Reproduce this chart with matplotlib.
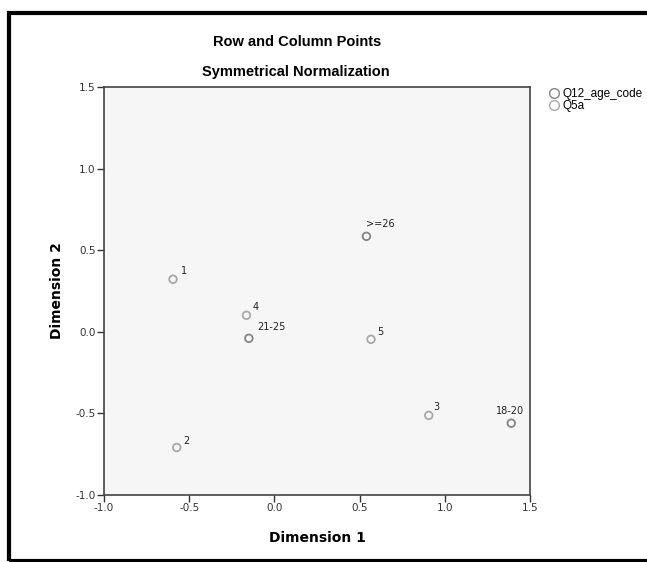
import matplotlib.pyplot as plt
from matplotlib.patches import Rectangle
from matplotlib.lines import Line2D

plt.rcParams['font.family'] = ['Liberation Sans', 'DejaVu Sans']

# row points (age groups) and column points (Q5a)
age_labels = ['18-20', '21-25', '>=26']
age_x = [1.39, -0.15, 0.54]
age_y = [-0.56, -0.04, 0.585]

q5_labels = ['1', '2', '3', '4', '5']
q5_x = [-0.595, -0.573, 0.906, -0.164, 0.567]
q5_y = [0.322, -0.709, -0.512, 0.101, -0.046]

# label offsets in pixels, as placed in the original
label_offsets = {'18-20': (-15, 7), '21-25': (8, 6), '>=26': (0, 7),
                 '1': (8, 3), '2': (6, 2), '3': (5, 3), '4': (6, 3), '5': (6, 2)}

fig = plt.figure(figsize=(6.47, 5.62), dpi=100)
ax = fig.add_axes([104/647, 1-495/562, 426/647, 408/562])
ax.set_facecolor('#f6f6f6')

ax.scatter(age_x, age_y, s=30, facecolors='none', edgecolors='#858585', linewidths=1.3, zorder=3)
ax.scatter(q5_x, q5_y, s=30, facecolors='none', edgecolors='#a8a8a8', linewidths=1.3, zorder=3)

for lab, x, y in zip(age_labels + q5_labels, age_x + q5_x, age_y + q5_y):
    ax.annotate(lab, (x, y), xytext=label_offsets[lab], textcoords='offset pixels',
                fontsize=7, family='DejaVu Sans', color='#222222', va='bottom', ha='left')

ticks = [-1.0, -0.5, 0.0, 0.5, 1.0, 1.5]
tick_labels = ['-1.0', '-0.5', '0.0', '0.5', '1.0', '1.5']
ax.set_xlim(-1.0, 1.5)
ax.set_ylim(-1.0, 1.5)
ax.set_xticks(ticks)
ax.set_yticks(ticks)
ax.set_xticklabels(tick_labels, family='DejaVu Sans')
ax.set_yticklabels(tick_labels, family='DejaVu Sans')
ax.tick_params(direction='out', length=5, width=1, labelsize=7.5, colors='#333333', pad=1)
for sp in ax.spines.values():
    sp.set_color('#444444')
    sp.set_linewidth(1.2)

ax.set_xlabel('Dimension 1', fontsize=10, fontweight='bold', family='DejaVu Sans', labelpad=13)
ax.set_ylabel('Dimension 2', fontsize=10, fontweight='bold', family='DejaVu Sans', labelpad=8)

fig.text(297/647, 1-42/562, 'Row and Column Points', ha='center', va='center', fontsize=10.5, fontweight='bold')
fig.text(296/647, 1-72/562, 'Symmetrical Normalization', ha='center', va='center', fontsize=10.5, fontweight='bold')

# legend
handles = [Line2D([], [], marker='o', linestyle='none', markerfacecolor='none', markeredgecolor='#858585', markersize=7),
           Line2D([], [], marker='o', linestyle='none', markerfacecolor='none', markeredgecolor='#a8a8a8', markersize=7)]
fig.legend(handles, ['Q12_age_code', 'Q5a'], loc='upper left', bbox_to_anchor=(542/647, 1-82/562),
           frameon=False, fontsize=8.5, handletextpad=0.25, borderpad=0, labelspacing=0.0, handlelength=1.0)

# outer frame
fig.patches.append(Rectangle((9/647, 1-561/562), 640/647, 548/562, transform=fig.transFigure,
                             fill=False, edgecolor='black', linewidth=3))

fig.savefig('out.png', dpi=100)
